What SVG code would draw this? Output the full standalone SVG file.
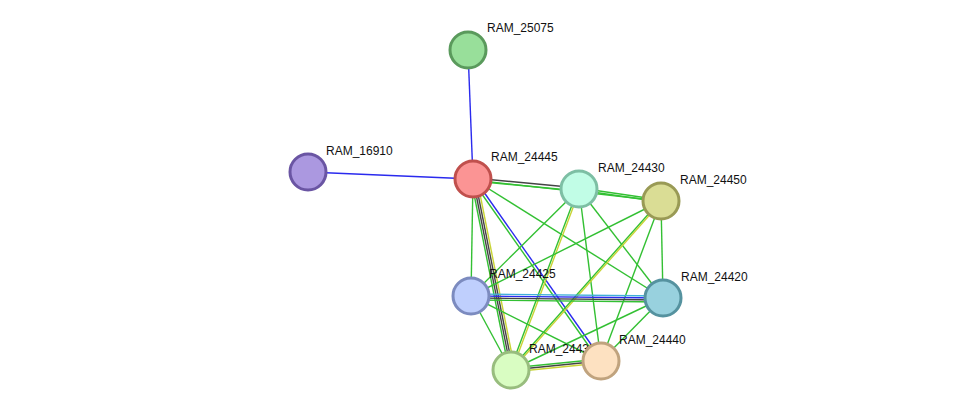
<svg xmlns="http://www.w3.org/2000/svg" width="975" height="416" viewBox="0 0 975 416">
<style>
.g{stroke:#33c033;stroke-width:1.4;fill:none}
.b{stroke:#2a2aee;stroke-width:1.4;fill:none}
.k{stroke:#444;stroke-width:1.4;fill:none}
.y{stroke:#c8d435;stroke-width:1.4;fill:none}
.c{stroke:#40b0d8;stroke-width:1.4;fill:none}
.n{stroke-width:3}
text{font-family:"Liberation Sans",Arial,sans-serif;font-size:12px;fill:#111}
</style>
<rect width="975" height="416" fill="#fff"/>
<g id="connectors">
<line class="b" x1="468" y1="50" x2="473" y2="179"/>
<line class="b" x1="308" y1="172" x2="473" y2="179"/>
<line class="k" x1="473" y1="178" x2="579" y2="188"/>
<line class="g" x1="473" y1="181" x2="579" y2="191"/>
<line class="g" x1="473" y1="180" x2="661" y2="201"/>
<line class="g" x1="579" y1="188" x2="661" y2="200"/>
<line class="g" x1="579" y1="190" x2="661" y2="202"/>
<line class="g" x1="473" y1="179" x2="471" y2="296"/>
<line class="g" x1="471" y1="179" x2="509" y2="370"/>
<line class="k" x1="473" y1="179" x2="511" y2="370"/>
<line class="k" x1="475" y1="179" x2="513" y2="370"/>
<line class="y" x1="477" y1="179" x2="515" y2="370"/>
<line class="b" x1="474" y1="178" x2="602" y2="360"/>
<line class="g" x1="472" y1="180" x2="600" y2="362"/>
<line class="g" x1="473" y1="179" x2="663" y2="298"/>
<line class="g" x1="579" y1="189" x2="471" y2="296"/>
<line class="g" x1="578" y1="189" x2="510" y2="370"/>
<line class="y" x1="580" y1="189" x2="512" y2="370"/>
<line class="g" x1="579" y1="189" x2="601" y2="361"/>
<line class="g" x1="579" y1="189" x2="663" y2="298"/>
<line class="g" x1="661" y1="201" x2="471" y2="296"/>
<line class="g" x1="660" y1="201" x2="510" y2="370"/>
<line class="y" x1="662" y1="201" x2="512" y2="370"/>
<line class="g" x1="661" y1="201" x2="601" y2="361"/>
<line class="g" x1="661" y1="201" x2="663" y2="298"/>
<line class="c" x1="471" y1="294" x2="663" y2="296"/>
<line class="b" x1="471" y1="296" x2="663" y2="298"/>
<line class="k" x1="471" y1="298" x2="663" y2="300"/>
<line class="g" x1="471" y1="300" x2="663" y2="302"/>
<line class="g" x1="471" y1="296" x2="511" y2="370"/>
<line class="g" x1="471" y1="296" x2="601" y2="361"/>
<line class="g" x1="663" y1="298" x2="511" y2="370"/>
<line class="g" x1="663" y1="298" x2="601" y2="361"/>
<line class="g" x1="511" y1="368" x2="601" y2="359"/>
<line class="k" x1="511" y1="370" x2="601" y2="361"/>
<line class="y" x1="511" y1="372" x2="601" y2="363"/>
</g>
<g id="RAM_25075"><circle class="n" cx="468" cy="50" r="18" fill="#98df9a" stroke="#5a9a5c"/><text x="487" y="32">RAM_25075</text></g>
<g id="RAM_16910"><circle class="n" cx="308" cy="172" r="18" fill="#ab98e0" stroke="#6a55a3"/><text x="326" y="155">RAM_16910</text></g>
<g id="RAM_24445"><circle class="n" cx="473" cy="179" r="18" fill="#fb9494" stroke="#c0504d"/><text x="491" y="161">RAM_24445</text></g>
<g id="RAM_24430"><circle class="n" cx="579" cy="189" r="18" fill="#c1fde6" stroke="#7dbfa4"/><text x="598" y="172">RAM_24430</text></g>
<g id="RAM_24450"><circle class="n" cx="661" cy="201" r="18" fill="#dadd95" stroke="#999a55"/><text x="680" y="184">RAM_24450</text></g>
<g id="RAM_24425"><circle class="n" cx="471" cy="296" r="18" fill="#bfcffd" stroke="#7c8bbf"/><text x="489" y="278">RAM_24425</text></g>
<g id="RAM_24420"><circle class="n" cx="663" cy="298" r="18" fill="#98d1de" stroke="#55929f"/><text x="681" y="281">RAM_24420</text></g>
<g id="RAM_24435"><circle class="n" cx="511" cy="370" r="18" fill="#d9fdc2" stroke="#98bd7e"/><text x="529" y="353">RAM_24435</text></g>
<g id="RAM_24440"><circle class="n" cx="601" cy="361" r="18" fill="#fde1c1" stroke="#c0a37e"/><text x="619" y="344">RAM_24440</text></g>
</svg>
